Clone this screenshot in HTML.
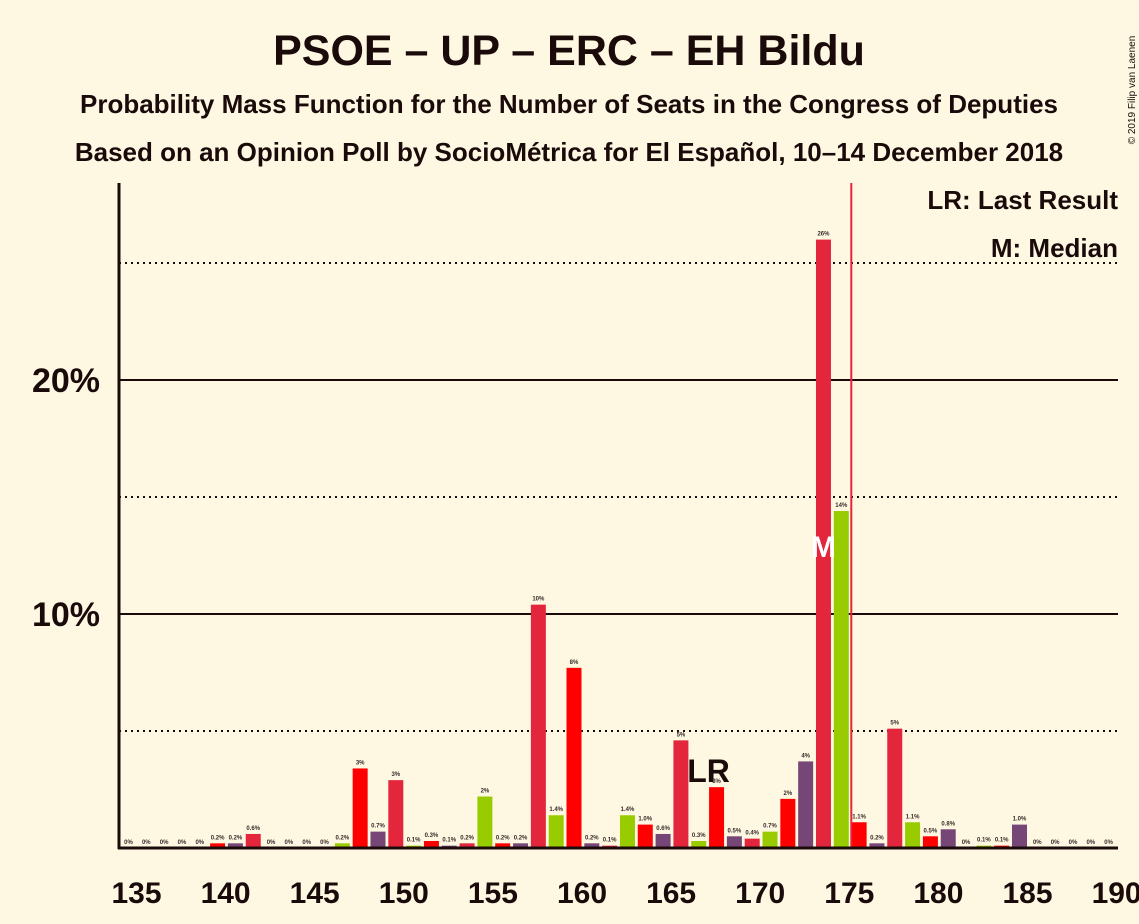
<!DOCTYPE html>
<html><head><meta charset="utf-8"><style>
body{margin:0;background:#FEF8E2;}
svg{display:block;font-family:"Liberation Sans",sans-serif;}
</style></head><body>
<svg id="c" width="1139" height="924" viewBox="0 0 1139 924">
<rect width="1139" height="924" fill="#FEF8E2"/>
<text x="569" y="65" text-anchor="middle" font-size="43" font-weight="bold" fill="#1a0a0a">PSOE – UP – ERC – EH Bildu</text>
<text x="569" y="113" text-anchor="middle" font-size="26" font-weight="bold" fill="#1a0a0a">Probability Mass Function for the Number of Seats in the Congress of Deputies</text>
<text x="569" y="161" text-anchor="middle" font-size="26" font-weight="bold" fill="#1a0a0a">Based on an Opinion Poll by SocioMétrica for El Español, 10–14 December 2018</text>
<text transform="translate(1135,90) rotate(-90)" text-anchor="middle" font-size="10" fill="#1a0a0a">© 2019 Filip van Laenen</text>
<g id="grid"></g>
<g id="bars"></g>
<g id="axes"></g>
<text x="1118" y="209" text-anchor="end" font-size="26" font-weight="bold" fill="#1a0a0a">LR: Last Result</text>
<text x="1118" y="257" text-anchor="end" font-size="26" font-weight="bold" fill="#1a0a0a">M: Median</text>
</svg>
<script>
const seats=[135,136,137,138,139,140,141,142,143,144,145,146,147,148,149,150,151,152,153,154,155,156,157,158,159,160,161,162,163,164,165,166,167,168,169,170,171,172,173,174,175,176,177,178,179,180,181,182,183,184,185,186,187,188,189,190];
const probs=[0,0,0,0,0,0.2,0.2,0.6,0,0,0,0,0.2,3.4,0.7,2.9,0.1,0.3,0.1,0.2,2.2,0.2,0.2,10.4,1.4,7.7,0.2,0.1,1.4,1.0,0.6,4.6,0.3,2.6,0.5,0.4,0.7,2.1,3.7,26,14.4,1.1,0.2,5.1,1.1,0.5,0.8,0,0.1,0.1,1.0,0,0,0,0,0];
const labels=["0%","0%","0%","0%","0%","0.2%","0.2%","0.6%","0%","0%","0%","0%","0.2%","3%","0.7%","3%","0.1%","0.3%","0.1%","0.2%","2%","0.2%","0.2%","10%","1.4%","8%","0.2%","0.1%","1.4%","1.0%","0.6%","5%","0.3%","3%","0.5%","0.4%","0.7%","2%","4%","26%","14%","1.1%","0.2%","5%","1.1%","0.5%","0.8%","0%","0.1%","0.1%","1.0%","0%","0%","0%","0%","0%"];
const xTicks=[135,140,145,150,155,160,165,170,175,180,185,190];
const yTicks=[10,20];
const yDotted=[5,15,25];
const lastResult=168;
const median=174;
const C=["#E3263B","#FF0000","#764677","#99CC00"];
const colorIdx=[0,0,0,0,0,1,2,0,0,0,0,0,3,1,2,0,3,1,2,0,3,1,2,0,3,1,2,0,3,1,2,0,3,1,2,0,3,1,2,0,3,1,2,0,3,1,2,0,3,1,2,0,0,0,0,0];
const x=s=>128.5+(s-135)*17.82;
const y=v=>848-v*23.4;
const ns="http://www.w3.org/2000/svg";
function mk(t,a,p){const e=document.createElementNS(ns,t);for(const k in a)e.setAttribute(k,a[k]);p.appendChild(e);return e;}
const grid=document.getElementById('grid'),bars=document.getElementById('bars'),axes=document.getElementById('axes');
yTicks.forEach(v=>{
  const l=mk('line',{x1:119,x2:1118,y1:y(v),y2:y(v),stroke:'#1a0a0a','stroke-width':2},grid);
  
  
  const t=mk('text',{x:100,y:y(v)+12,'text-anchor':'end','font-size':34,'font-weight':'bold',fill:'#1a0a0a'},axes);
  t.textContent=v+'%';
  
  
});
yDotted.forEach(v=>{
  const l=mk('line',{x1:119,x2:1118,y1:y(v),y2:y(v),stroke:'#1a0a0a','stroke-width':2,'stroke-dasharray':'2,4'},grid);
  
  
});
seats.forEach((s,i)=>{
  const v=probs[i];
  if(v>0){
    const r=mk('rect',{x:x(s)-7.5,y:y(v),width:15,height:848-y(v),fill:C[colorIdx[i]]},bars);
    
    
  }
  const t=mk('text',{x:x(s),y:y(v)-4,'text-anchor':'middle','font-size':6,'font-weight':'bold',fill:'#3a2a2a'},bars);
  t.textContent=labels[i];
  
  
});
const ml=mk('line',{x1:x(175)+10,x2:x(175)+10,y1:183,y2:848,stroke:'#E3263B','stroke-width':2},bars);


const lr=mk('text',{x:x(lastResult)-8,y:782,'text-anchor':'middle','font-size':32,'font-weight':'bold',fill:'#1a0a0a'},bars);
lr.textContent='LR';


const m=mk('text',{x:x(median),y:557,'text-anchor':'middle','font-size':30,'font-weight':'bold',fill:'#fff'},bars);
m.textContent='M';


const ax=mk('line',{x1:119,x2:119,y1:183,y2:849,stroke:'#1a0a0a','stroke-width':3},axes);


const bx=mk('line',{x1:118,x2:1118,y1:848,y2:848,stroke:'#1a0a0a','stroke-width':3},axes);


xTicks.forEach(s=>{
  const t=mk('text',{x:x(s)+8,y:903,'text-anchor':'middle','font-size':30,'font-weight':'bold',fill:'#1a0a0a'},axes);
  t.textContent=s;
  
  
});
</script>
</body></html>
